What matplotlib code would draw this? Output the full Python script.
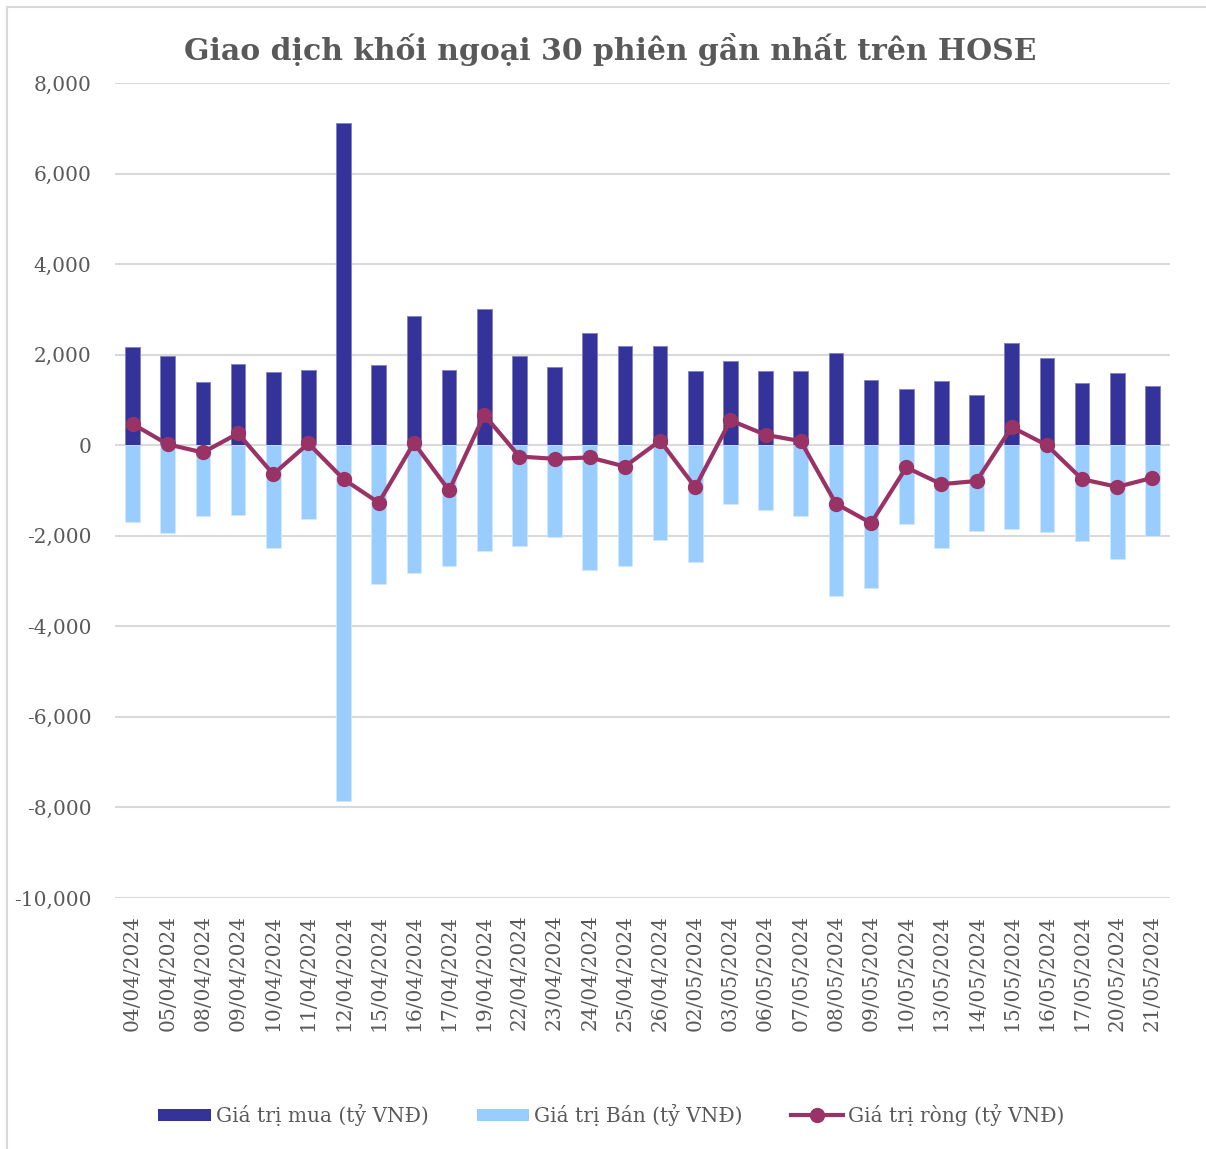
import matplotlib
matplotlib.use("Agg")
import matplotlib.pyplot as plt
from matplotlib.lines import Line2D
from matplotlib.patches import Patch
import numpy as np

# Data (tỷ VNĐ)
dates = [
    "04/04/2024", "05/04/2024", "08/04/2024", "09/04/2024", "10/04/2024",
    "11/04/2024", "12/04/2024", "15/04/2024", "16/04/2024", "17/04/2024",
    "19/04/2024", "22/04/2024", "23/04/2024", "24/04/2024", "25/04/2024",
    "26/04/2024", "02/05/2024", "03/05/2024", "06/05/2024", "07/05/2024",
    "08/05/2024", "09/05/2024", "10/05/2024", "13/05/2024", "14/05/2024",
    "15/05/2024", "16/05/2024", "17/05/2024", "20/05/2024", "21/05/2024",
]
buy = [
    2180, 1960, 1400, 1800, 1620, 1670, 7120, 1780, 2860, 1660,
    3000, 1970, 1730, 2480, 2190, 2190, 1650, 1860, 1650, 1650,
    2030, 1440, 1250, 1420, 1110, 2260, 1920, 1370, 1590, 1300,
]
sell = [
    -1700, -1940, -1570, -1550, -2270, -1630, -7860, -3070, -2830, -2670,
    -2340, -2230, -2030, -2760, -2670, -2100, -2580, -1300, -1430, -1570,
    -3330, -3160, -1750, -2280, -1900, -1860, -1920, -2120, -2520, -2010,
]
net = [
    470, 20, -160, 260, -640, 40, -750, -1270, 50, -1000,
    670, -250, -300, -270, -470, 100, -930, 550, 230, 90,
    -1290, -1720, -490, -860, -790, 400, 0, -750, -920, -720,
]

BUY_COLOR = "#333399"
SELL_COLOR = "#99CCFF"
NET_COLOR = "#993366"
GRID_COLOR = "#D9D9D9"
TEXT_COLOR = "#595959"

plt.rcParams["font.family"] = ["DejaVu Serif"]

fig = plt.figure(figsize=(12.06, 11.49), dpi=100)
ax = fig.add_axes([115 / 1206, 1 - 898 / 1149, (1170 - 115) / 1206, (898 - 83) / 1149])

x = np.arange(len(dates))
ax.bar(x, buy, width=0.42, color=BUY_COLOR, edgecolor="#7F7FC4", linewidth=0.6, zorder=2)
ax.bar(x, sell, width=0.42, color=SELL_COLOR, edgecolor="#D0E8FF", linewidth=0.6, zorder=2)
ax.plot(x, net, color=NET_COLOR, linewidth=3, marker="o", markersize=10, zorder=3)

ax.set_xlim(-0.5, len(dates) - 0.5)
ax.set_ylim(-10000, 8000)
ax.set_yticks(np.arange(-10000, 8001, 2000))
ax.yaxis.set_major_formatter(matplotlib.ticker.FuncFormatter(lambda v, p: f"{int(v):,}"))
ax.set_xticks(x)
ax.set_xticklabels(dates, rotation=90)
ax.tick_params(axis="both", length=0, colors=TEXT_COLOR, labelsize=14.5)
ax.tick_params(axis="y", pad=17)
ax.tick_params(axis="x", pad=12)
ax.grid(axis="y", color=GRID_COLOR, linewidth=1.5, zorder=0)
ax.set_axisbelow(True)
for s in ax.spines.values():
    s.set_visible(False)

fig.text(0.506, 1 - 50 / 1149, "Giao dịch khối ngoại 30 phiên gần nhất trên HOSE",
         ha="center", va="center", fontsize=21.5, fontweight="bold", color=TEXT_COLOR)

handles = [
    Patch(facecolor=BUY_COLOR, label="Giá trị mua (tỷ VNĐ)"),
    Patch(facecolor=SELL_COLOR, label="Giá trị Bán (tỷ VNĐ)"),
    Line2D([0], [0], color=NET_COLOR, linewidth=3, marker="o", markersize=10,
           label="Giá trị ròng (tỷ VNĐ)"),
]
fig.legend(handles=handles, loc="center", bbox_to_anchor=(0.507, 1 - 1115 / 1149), ncol=3,
           frameon=False, fontsize=14.5, labelcolor=TEXT_COLOR, handlelength=2.6,
           handletextpad=0.25, columnspacing=2.4, handleheight=0.6)

# chart border (light grey frame around the whole chart)
fig.add_artist(Line2D([7 / 1206, 1], [1 - 7 / 1149, 1 - 7 / 1149], color=GRID_COLOR, linewidth=1.5))
fig.add_artist(Line2D([7 / 1206, 7 / 1206], [0, 1 - 7 / 1149], color=GRID_COLOR, linewidth=1.5))

fig.savefig("out.png", dpi=100)
